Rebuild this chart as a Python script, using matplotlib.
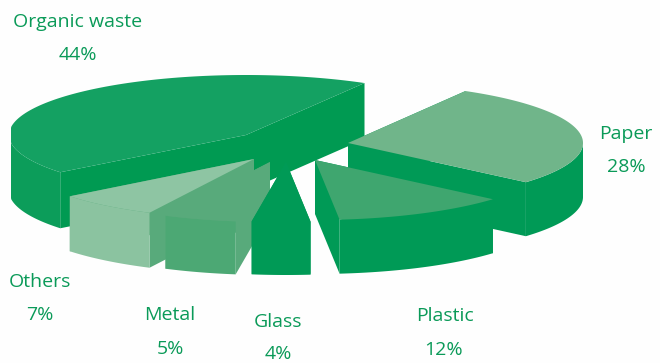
import matplotlib
matplotlib.use("Agg")
import matplotlib.pyplot as plt
import numpy as np

categorias = ["Paper", "Plastic", "Glass", "Metal", "Others", "Organic waste"]
porcentajes = [28, 12, 4, 5, 7, 44]

# apex of every slice on the canvas, in pixels
centros = {
    "Paper": (348, 143),
    "Plastic": (315, 160),
    "Glass": (286, 162),
    "Metal": (270, 162),
    "Others": (254, 159),
    "Organic waste": (246, 135),
}
alturas = {"Paper": 54, "Plastic": 54, "Glass": 53, "Metal": 53, "Others": 55, "Organic waste": 56}
radios = {"Paper": 235, "Plastic": 235, "Glass": 235, "Metal": 235, "Others": 235, "Organic waste": 237}
color_tapa = {"Paper": "#70b58a", "Plastic": "#3fa66f", "Glass": "#009a56", "Metal": "#58aa7b",
              "Others": "#8ec5a3", "Organic waste": "#14a162"}
color_lado = {"Paper": "#009a56", "Plastic": "#009a56", "Glass": "#009a56", "Metal": "#4ca874",
              "Others": "#8bc3a0", "Organic waste": "#0c9d5a"}
color_corte = {"Paper": "#009a56", "Plastic": "#009a56", "Glass": "#009a56", "Metal": "#58aa7b",
               "Others": "#58aa7b", "Organic waste": "#009a52"}
orden_dibujo = ["Organic waste", "Paper", "Plastic", "Others", "Metal", "Glass"]

etiquetas = {
    "Organic waste": (78, 22, 78, 55),
    "Paper": (626, 134, 626, 167),
    "Plastic": (445, 316, 443, 350),
    "Glass": (278, 322, 278, 354),
    "Metal": (170, 315, 170, 349),
    "Others": (40, 282, 40, 315),
}

RY = 60
ANGULO_INICIAL = 60
BORDE_IZQUIERDO = 11
VERDE = "#0a9a58"


def punto(nombre, t):
    centro = centros[nombre]
    # el borde izquierdo de la elipse queda recortado en vertical
    x = np.maximum(centro[0] + radios[nombre] * np.cos(t), BORDE_IZQUIERDO)
    return x, centro[1] - RY * np.sin(t)


def dibujar_rebanada(ax, nombre, t_ini, t_fin):
    """Dibuja una rebanada: caras de corte, pared exterior y tapa."""
    centro = centros[nombre]
    h = alturas[nombre]
    for t in (t_ini, t_fin):
        x, y = punto(nombre, t)
        ax.fill([centro[0], x, x, centro[0]], [centro[1], y, y + h, centro[1] + h],
                color=color_corte[nombre], lw=0, zorder=1)

    angulos = np.linspace(t_ini, t_fin, 120)
    x, y = punto(nombre, angulos)

    # la pared solo se ve en la mitad delantera de la elipse
    frente = np.sin(angulos) <= 0
    if frente.any():
        xf, yf = x[frente], y[frente]
        ax.fill(np.r_[xf, xf[::-1]], np.r_[yf, yf[::-1] + h], color=color_lado[nombre], lw=0)

    ax.fill(np.r_[centro[0], x], np.r_[centro[1], y], color=color_tapa[nombre], lw=0)


fig = plt.figure(figsize=(6.6, 3.63), dpi=100, facecolor="#fefefe")
ax = fig.add_axes([0, 0, 1, 1])
ax.set_xlim(0, 660)
ax.set_ylim(363, 0)
ax.axis("off")

# angulos de cada rebanada a partir de los porcentajes, en sentido horario
limites = {}
acumulado = ANGULO_INICIAL
for nombre, valor in zip(categorias, porcentajes):
    limites[nombre] = (np.radians(acumulado), np.radians(acumulado - valor * 3.6))
    acumulado -= valor * 3.6

for nombre in orden_dibujo:
    dibujar_rebanada(ax, nombre, *limites[nombre])

for nombre, valor in zip(categorias, porcentajes):
    x1, y1, x2, y2 = etiquetas[nombre]
    ax.text(x1, y1, nombre, color=VERDE, fontsize=14, family="Open Sans", ha="center", va="center")
    ax.text(x2, y2, f"{valor}%", color=VERDE, fontsize=14, family="Open Sans", ha="center", va="center")

fig.savefig("out.png", dpi=100, facecolor=fig.get_facecolor())
